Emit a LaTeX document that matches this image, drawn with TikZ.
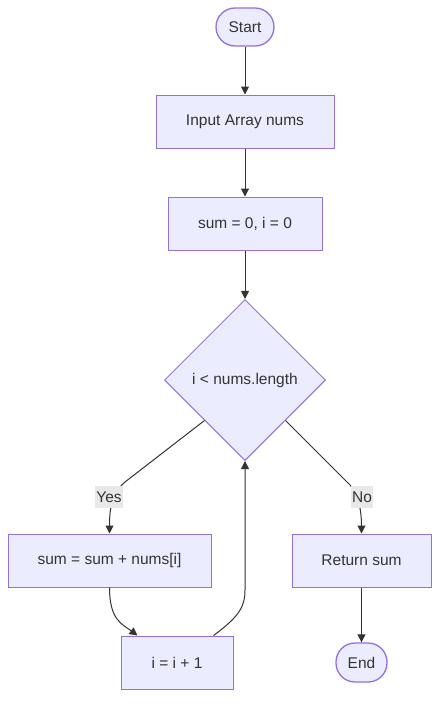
\documentclass[tikz,border=0pt]{standalone}
\usepackage{fontspec}
\setmainfont{Liberation Sans}
\usetikzlibrary{shapes.geometric,arrows.meta,calc}
\definecolor{nfill}{HTML}{ECECFF}
\definecolor{nline}{HTML}{9370DB}
\definecolor{ink}{HTML}{333333}
\definecolor{lblbg}{HTML}{E8E8E8}
\tikzset{
  txt/.style={text=ink,font=\fontsize{15.5}{18}\selectfont},
  box/.style={txt,draw=nline,fill=nfill,line width=1pt,minimum height=53pt,inner sep=0pt},
  term/.style={txt,draw=nline,fill=nfill,line width=1.3pt,minimum height=38pt,rounded corners=19pt,inner sep=0pt},
  dec/.style={txt,diamond,aspect=1,draw=nline,fill=nfill,line width=1pt,minimum width=161pt,minimum height=161pt,inner sep=0pt},
  arr/.style={draw=ink,line width=1pt,-{Triangle[length=8pt,width=8pt]}},
  lbl/.style={txt,fill=lblbg,inner sep=1.5pt,minimum height=22pt}
}
\begin{document}
\begin{tikzpicture}[x=1pt,y=-1pt]
\useasboundingbox (0,0) rectangle (447,710);
\node[term,minimum width=58pt] (start) at (245,27) {Start};
\node[box,minimum width=178pt] (inp) at (245,121.5) {Input Array nums};
\node[box,minimum width=154pt] (init) at (245,223.5) {sum = 0, i = 0};
\node[dec] (d) at (245,380) {i < nums.length};
\node[box,minimum width=203pt] (acc) at (109.5,560.5) {sum = sum + nums[i]};
\node[box,minimum width=139pt] (ret) at (361.5,560.5) {Return sum};
\node[box,minimum width=112pt] (inc) at (177,662.5) {i = i + 1};
\node[term,minimum width=51pt,minimum height=39pt] (end) at (361.5,662.5) {End};

\draw[arr] (start) -- (inp);
\draw[arr] (inp) -- (init);
\draw[arr] (init) -- (d);
\draw[arr] (d.south west) -- (125,482) .. controls (111,494) and (109.5,510) .. (acc.north);
\draw[arr] (d.south east) -- (350,485) .. controls (358,493) and (361.5,510) .. (ret.north);
\draw[arr] (acc.south) .. controls (109.5,620) and (122,624) .. ([xshift=17pt]inc.north west);
\draw[arr] ([xshift=-20pt]inc.north east) .. controls (240,616) and (245,606) .. (245,590) -- (d.south);
\draw[arr] (ret) -- (end);
\node[lbl] (yes) at (109,497) {Yes};
\node[lbl] (no) at (362,497) {No};
\end{tikzpicture}
\end{document}
